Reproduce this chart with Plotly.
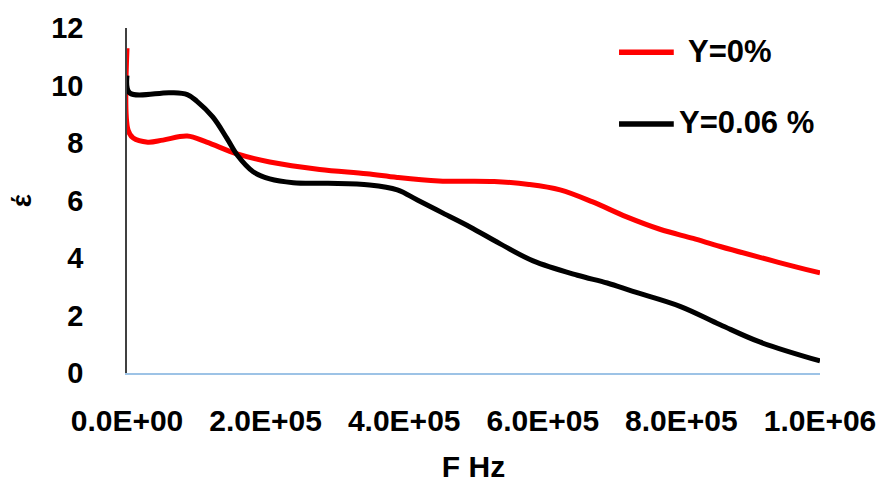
import plotly.graph_objects as go

# Frequency (Hz) and real permittivity for the two samples
freq_y0 = [0, 1.5e3, 9e3, 3.0e4, 5.2e4, 8.7e4, 1.15e5, 1.59e5, 2.06e5, 2.78e5,
           3.46e5, 3.9e5, 4.5e5, 5.3e5, 5.8e5, 6.25e5, 6.72e5, 7.21e5, 7.69e5,
           8.17e5, 8.56e5, 9.4e5, 1.0e6]
eps_y0 = [11.3, 8.45, 8.17, 8.03, 8.10, 8.24, 8.03, 7.62, 7.34, 7.08,
          6.93, 6.80, 6.68, 6.66, 6.56, 6.37, 5.95, 5.43, 5.00,
          4.68, 4.40, 3.85, 3.48]

freq_y006 = [0, 4e3, 6.2e4, 8.7e4, 1.01e5, 1.24e5, 1.44e5, 1.59e5, 1.82e5, 2.06e5,
             2.4e5, 2.9e5, 3.5e5, 3.9e5, 4.19e5, 4.56e5, 4.95e5, 5.38e5, 5.86e5,
             6.5e5, 6.93e5, 7.3e5, 7.98e5, 8.56e5, 9.13e5, 1.0e6]
eps_y006 = [10.35, 9.74, 9.75, 9.68, 9.45, 8.90, 8.17, 7.58, 7.00, 6.75,
            6.62, 6.60, 6.54, 6.37, 6.02, 5.56, 5.08, 4.50, 3.90,
            3.40, 3.13, 2.84, 2.32, 1.68, 1.08, 0.42]

series_names = ["Y=0%", "Y=0.06 %"]
series_colors = ["#ff0000", "#000000"]

x_tick_values = [0, 2e5, 4e5, 6e5, 8e5, 1e6]
x_tick_labels = ["0.0E+00", "2.0E+05", "4.0E+05", "6.0E+05", "8.0E+05", "1.0E+06"]
y_tick_values = [0, 2, 4, 6, 8, 10, 12]

FONT = "Liberation Sans, Arial, sans-serif"

fig = go.Figure()
for fx, fy, name, color in zip([freq_y0, freq_y006], [eps_y0, eps_y006],
                               series_names, series_colors):
    fig.add_trace(go.Scatter(
        x=fx, y=fy, mode="lines", name=name, showlegend=False,
        line=dict(color=color, width=5, shape="spline", smoothing=1.0),
    ))

# Hand-drawn legend: a line sample and a bold label per series
legend_rows = [(0.930, 0.807), (0.722, 0.794)]
for (ly, tx), name, color in zip(legend_rows, series_names, series_colors):
    fig.add_shape(type="line", xref="paper", yref="paper",
                  x0=0.710, x1=0.789, y0=ly, y1=ly,
                  line=dict(color=color, width=5.5))
    fig.add_annotation(xref="paper", yref="paper", x=tx, y=ly + 0.003,
                       xanchor="left", yanchor="middle", showarrow=False,
                       text="<b>%s</b>" % name,
                       font=dict(family=FONT, size=31, color="#000000"))

# Rotated y-axis title (permittivity symbol)
fig.add_annotation(xref="paper", yref="paper", x=-0.152, y=0.5,
                   xanchor="center", yanchor="middle", showarrow=False,
                   textangle=-90, text="<b>έ</b>",
                   font=dict(family=FONT, size=28, color="#000000"))

fig.update_layout(
    width=883, height=483,
    margin=dict(l=127, r=63, t=28, b=110, autoexpand=False),
    paper_bgcolor="white", plot_bgcolor="white",
    font=dict(family=FONT, color="#000000"),
    xaxis=dict(
        range=[0, 1e6], tickvals=x_tick_values, ticktext=x_tick_labels,
        showgrid=False, zeroline=False, ticks="", automargin=False,
        showline=True, linecolor="#9DC3E6", linewidth=1.5,
        tickfont=dict(family=FONT, size=30, color="#000000", weight="bold"),
        ticklabelstandoff=20,
        title=dict(text="<b>F Hz</b>", standoff=26,
                   font=dict(family=FONT, size=30, color="#000000")),
    ),
    yaxis=dict(
        range=[0, 12], tickvals=y_tick_values,
        showgrid=False, zeroline=False, ticks="", automargin=False,
        showline=True, linecolor="#404040", linewidth=1.5,
        tickfont=dict(family=FONT, size=29, color="#000000", weight="bold"),
        ticklabelstandoff=36,
    ),
)

fig.write_html("out.html")
